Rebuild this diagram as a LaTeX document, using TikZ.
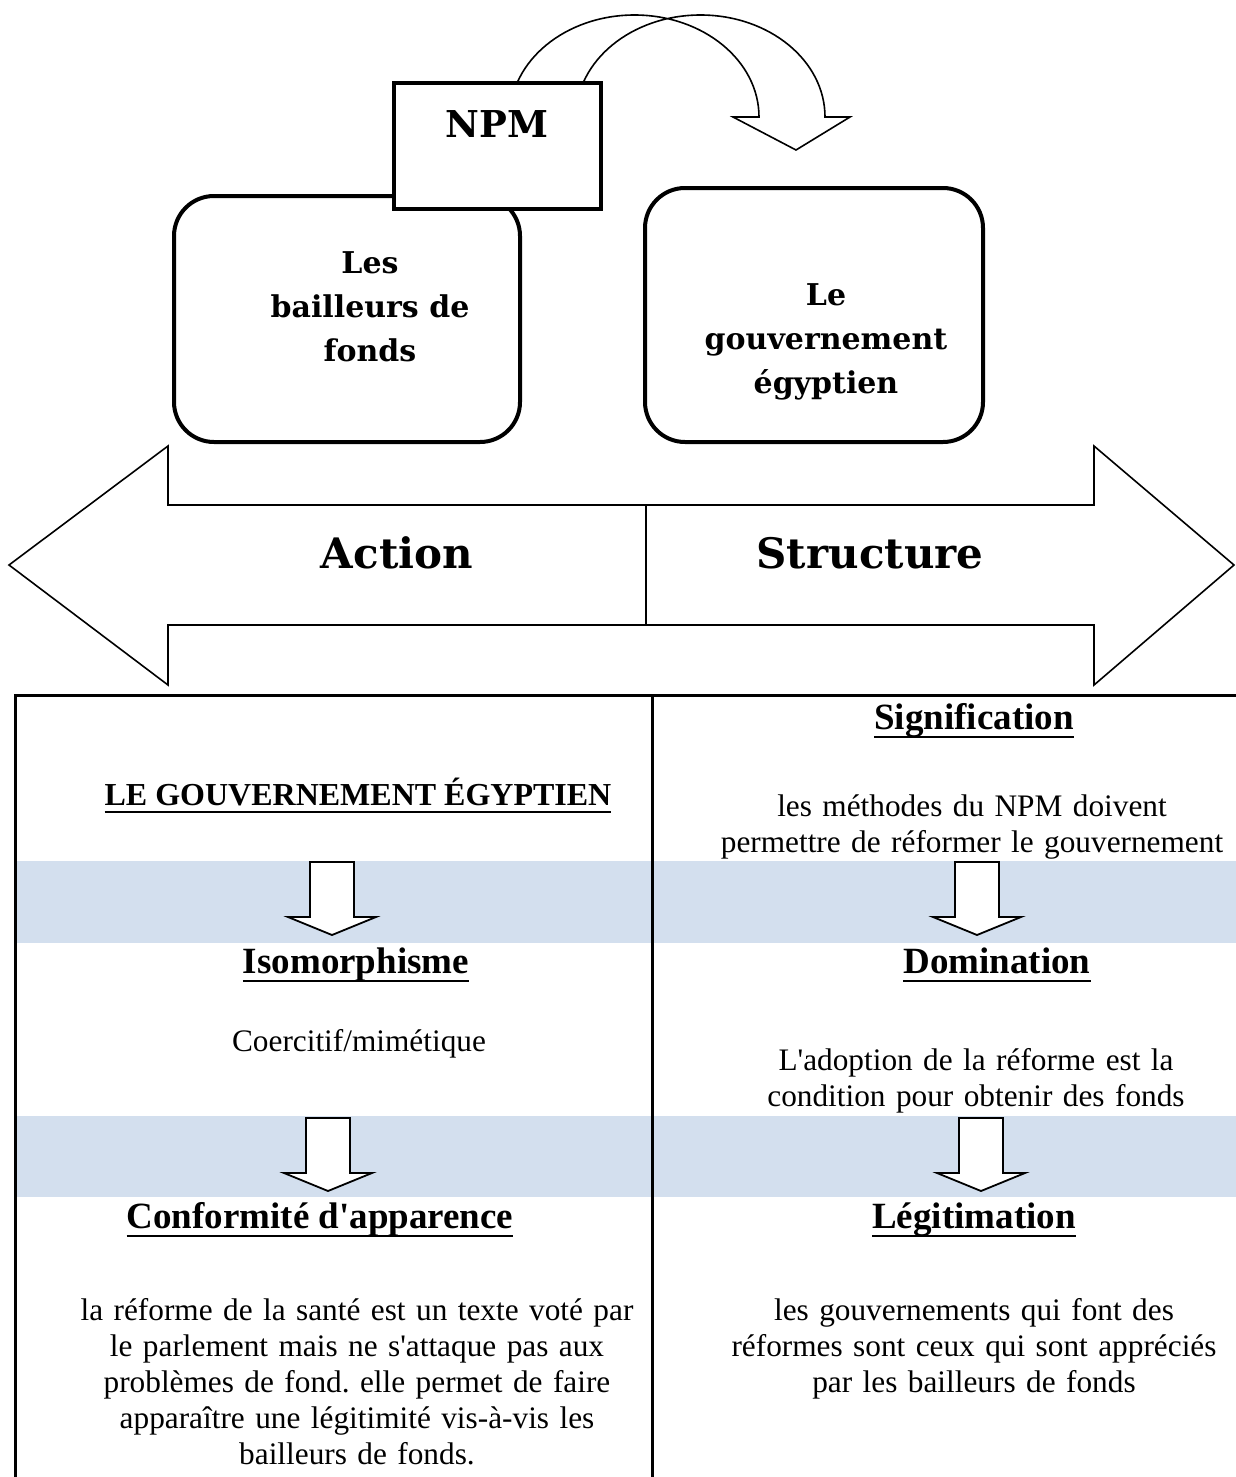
\documentclass[tikz,border=0pt]{standalone}
\usepackage{fontspec}
\setmainfont{Liberation Serif}
\newfontfamily\cambriafont{DejaVu Serif}
\usepackage{tikz}
\usetikzlibrary{positioning, backgrounds}
\frenchspacing
\definecolor{bandblue}{HTML}{D3DFEE}
\tikzset{
  rbox/.style={rectangle, rounded corners=40pt, draw=black, line width=4pt, fill=white, inner sep=0pt},
  npmbox/.style={rectangle, draw=black, line width=4pt, fill=white, inner sep=0pt},
  btxt/.style={font=\cambriafont\bfseries\fontsize{30}{44}\selectfont, align=center, inner sep=0pt},
  axtxt/.style={font=\cambriafont\bfseries\fontsize{42}{50}\selectfont, inner sep=0pt},
  hd/.style={font=\bfseries\fontsize{37}{44}\selectfont, inner sep=0pt, anchor=base},
  txt/.style={font=\fontsize{31.3}{36}\selectfont, align=center, text width=620pt, inner sep=0pt, anchor=base},
  ol/.style={draw=black, line width=1.6pt, line join=miter},
  tbl/.style={draw=black, line width=3pt},
  band/.style={fill=bandblue},
  pics/dnarrow/.style={code={
    \draw[ol, line width=1.8pt, fill=white] (-22,0) -- (22,0) -- (22,55) -- (44,55)
      -- (0,73) -- (-44,55) -- (-22,55) -- cycle;
  }},
}
\newcommand{\ulhd}[1]{\setbox0\hbox{#1}\rlap{\rule[-0.24em]{\wd0}{0.055em}}\box0}
\newcommand{\qs}{\textquotesingle}

\begin{document}
\begin{tikzpicture}[x=1pt, y=-1pt]
\useasboundingbox (0,0) rectangle (1236,1477);

% curved arrow over the actors
\draw[ol] (510,117) arc[start angle=180, end angle=360, x radius=124.5, y radius=102]
  -- (733,117) -- (796,150) -- (850,117) -- (825,117)
  arc[start angle=360, end angle=180, x radius=124.5, y radius=102];

\node[rbox, minimum width=346pt, minimum height=246pt] (BF) at (347,319) {};
\node[rbox, minimum width=338pt, minimum height=254pt] (GE) at (814,315) {};
\node[npmbox, minimum width=207pt, minimum height=126pt] (NPM) at (497.5,146) {};
\node[btxt] (BFt) at (370,307) {Les\\bailleurs de\\fonds};
\node[btxt] (GEt) at (826,342) {Le\\gouvernement\\égyptien};
\node[btxt, font=\cambriafont\bfseries\fontsize{37}{44}\selectfont, anchor=base] (NPMt) at (497,137) {NPM};

% action / structure
\draw[ol, fill=white] (9,565) -- (168,446) -- (168,505) -- (1094,505) -- (1094,446) -- (1234,565)
  -- (1094,685) -- (1094,625) -- (168,625) -- (168,685) -- cycle;
\draw[ol] (646,505) -- (646,625);
\node[axtxt] (ACT) at (397,553) {Action};
\node[axtxt] (STR) at (870,553) {Structure};

% table
\begin{scope}[on background layer]
  \fill[band] (15,861) rectangle (1236,943);
  \fill[band] (15,1116) rectangle (1236,1197);
\end{scope}
\draw[tbl] (15,1477) -- (15,695) -- (1236,695);
\draw[tbl] (652,695) -- (652,1477);

\pic at (332,862) {dnarrow};
\pic at (977,862) {dnarrow};
\pic at (328,1118) {dnarrow};
\pic at (981,1118) {dnarrow};

\node[hd, font=\bfseries\fontsize{32}{36}\selectfont] (GOV) at (358,805) {\ulhd{LE GOUVERNEMENT ÉGYPTIEN}};
\node[hd] (SIG) at (974,729) {\ulhd{Signification}};
\node[txt] (SIGt) at (972,816) {les méthodes du NPM doivent\\permettre de réformer le gouvernement};

\node[hd] (ISO) at (356,973) {\ulhd{Isomorphisme}};
\node[hd] (DOM) at (997,973) {\ulhd{Domination}};
\node[txt] (ISOt) at (359,1051) {Coercitif/mimétique};
\node[txt] (DOMt) at (976,1070) {L\qs adoption de la réforme est la\\condition pour obtenir des fonds};

\node[hd] (CON) at (320,1228) {\ulhd{Conformité d\qs apparence}};
\node[hd] (LEG) at (974,1228) {\ulhd{Légitimation}};
\node[txt] (CONt) at (357,1320) {la réforme de la santé est un texte voté par\\le parlement mais ne s\qs attaque pas aux\\problèmes de fond. elle permet de faire\\apparaître une légitimité vis-à-vis les\\bailleurs de fonds.};
\node[txt] (LEGt) at (974,1320) {les gouvernements qui font des\\réformes sont ceux qui sont appréciés\\par les bailleurs de fonds};
\end{tikzpicture}
\end{document}
